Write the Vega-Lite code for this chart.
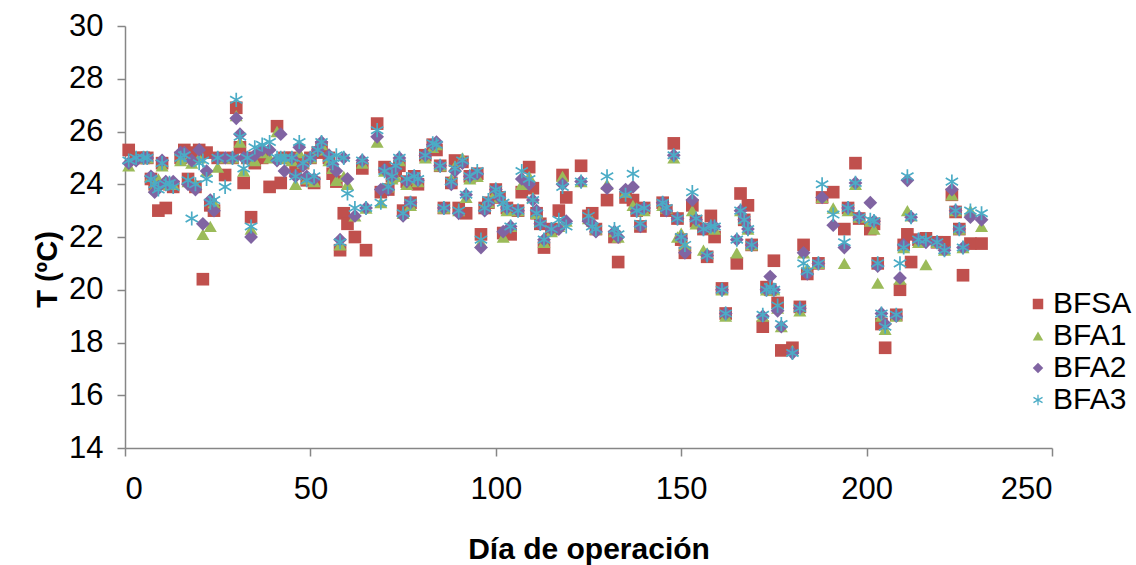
{
  "$schema": "https://vega.github.io/schema/vega-lite/v6.json",
  "width": 927,
  "height": 422,
  "autosize": {"type": "none"},
  "padding": {"left": 125, "top": 26, "right": 84, "bottom": 117},
  "background": "white",
  "config": {
    "view": {"stroke": null},
    "font": "Liberation Sans",
    "axis": {
      "grid": false,
      "domainColor": "#868686",
      "domainWidth": 1.5,
      "tickColor": "#868686",
      "tickWidth": 1.5,
      "tickSize": 8,
      "labelColor": "#000000",
      "labelFont": "Liberation Sans",
      "labelFontSize": 31,
      "titleFont": "Liberation Sans",
      "titleFontWeight": "bold",
      "titleColor": "#000000"
    }
  },
  "data": {"values": [
    {"d":1,"BFSA":25.3,"BFA1":24.7,"BFA2":24.8,"BFA3":24.9},
    {"d":3,"BFSA":25.0,"BFA1":25.0,"BFA2":24.9,"BFA3":25.0},
    {"d":5,"BFSA":25.0,"BFA1":25.0,"BFA2":25.0,"BFA3":25.0},
    {"d":6,"BFSA":25.0,"BFA1":25.0,"BFA2":25.0,"BFA3":25.0},
    {"d":7,"BFSA":24.2,"BFA1":24.3,"BFA2":24.3,"BFA3":24.2},
    {"d":8,"BFSA":24.0,"BFA1":23.9,"BFA2":23.7,"BFA3":24.0},
    {"d":9,"BFSA":23.0,"BFA1":24.2,"BFA2":23.9,"BFA3":23.8},
    {"d":10,"BFSA":24.8,"BFA1":24.7,"BFA2":24.9,"BFA3":24.8},
    {"d":11,"BFSA":23.1,"BFA1":24.0,"BFA2":24.1,"BFA3":24.0},
    {"d":12,"BFSA":24.0,"BFA1":24.1,"BFA2":24.0,"BFA3":24.05},
    {"d":13,"BFSA":23.9,"BFA1":24.0,"BFA2":24.1,"BFA3":23.9},
    {"d":15,"BFSA":25.0,"BFA1":24.9,"BFA2":25.2,"BFA3":25.0},
    {"d":16,"BFSA":25.3,"BFA1":25.0,"BFA2":25.2,"BFA3":25.1},
    {"d":17,"BFSA":24.2,"BFA1":24.1,"BFA2":24.0,"BFA3":24.15},
    {"d":18,"BFSA":25.2,"BFA1":24.8,"BFA2":24.9,"BFA3":22.7},
    {"d":19,"BFSA":23.9,"BFA1":24.0,"BFA2":23.8,"BFA3":24.0},
    {"d":20,"BFSA":25.3,"BFA1":25.0,"BFA2":25.3,"BFA3":24.8},
    {"d":21,"BFSA":20.4,"BFA1":22.1,"BFA2":22.5,"BFA3":24.9},
    {"d":22,"BFSA":25.2,"BFA1":24.5,"BFA2":24.5,"BFA3":24.2},
    {"d":23,"BFSA":23.2,"BFA1":22.4,"BFA2":23.4,"BFA3":23.3},
    {"d":24,"BFSA":23.0,"BFA1":23.3,"BFA2":23.0,"BFA3":23.4},
    {"d":25,"BFSA":25.0,"BFA1":24.65,"BFA2":25.0,"BFA3":25.0},
    {"d":27,"BFSA":24.35,"BFA1":25.0,"BFA2":25.0,"BFA3":23.9},
    {"d":29,"BFSA":25.0,"BFA1":25.0,"BFA2":25.0,"BFA3":25.0},
    {"d":30,"BFSA":26.9,"BFA1":26.6,"BFA2":26.5,"BFA3":27.2},
    {"d":31,"BFSA":25.4,"BFA1":25.6,"BFA2":25.9,"BFA3":25.8},
    {"d":32,"BFSA":24.05,"BFA1":24.5,"BFA2":25.0,"BFA3":24.6},
    {"d":33,"BFSA":25.0,"BFA1":25.0,"BFA2":25.0,"BFA3":25.0},
    {"d":34,"BFSA":22.75,"BFA1":22.3,"BFA2":22.0,"BFA3":22.4},
    {"d":35,"BFSA":24.8,"BFA1":24.9,"BFA2":25.1,"BFA3":25.4},
    {"d":37,"BFSA":25.0,"BFA1":25.2,"BFA2":25.3,"BFA3":25.5},
    {"d":39,"BFSA":23.9,"BFA1":25.0,"BFA2":25.3,"BFA3":25.6},
    {"d":41,"BFSA":26.2,"BFA1":26.0,"BFA2":24.9,"BFA3":25.0},
    {"d":42,"BFSA":24.05,"BFA1":25.0,"BFA2":25.9,"BFA3":25.0},
    {"d":43,"BFSA":25.0,"BFA1":25.0,"BFA2":24.5,"BFA3":25.0},
    {"d":45,"BFSA":25.0,"BFA1":24.9,"BFA2":25.0,"BFA3":25.0},
    {"d":46,"BFSA":24.5,"BFA1":24.0,"BFA2":24.3,"BFA3":24.3},
    {"d":47,"BFSA":24.8,"BFA1":25.2,"BFA2":25.4,"BFA3":25.6},
    {"d":48,"BFSA":24.8,"BFA1":24.8,"BFA2":24.7,"BFA3":24.8},
    {"d":49,"BFSA":24.15,"BFA1":24.2,"BFA2":24.3,"BFA3":24.15},
    {"d":50,"BFSA":25.0,"BFA1":25.0,"BFA2":25.0,"BFA3":25.0},
    {"d":51,"BFSA":24.05,"BFA1":24.1,"BFA2":24.2,"BFA3":24.3},
    {"d":52,"BFSA":25.2,"BFA1":25.3,"BFA2":25.3,"BFA3":25.3},
    {"d":53,"BFSA":25.4,"BFA1":25.5,"BFA2":25.6,"BFA3":25.6},
    {"d":55,"BFSA":25.0,"BFA1":24.9,"BFA2":25.1,"BFA3":25.0},
    {"d":56,"BFSA":24.4,"BFA1":24.6,"BFA2":24.75,"BFA3":24.8},
    {"d":57,"BFSA":24.1,"BFA1":24.15,"BFA2":24.5,"BFA3":25.1},
    {"d":58,"BFSA":21.5,"BFA1":21.7,"BFA2":21.9,"BFA3":21.8},
    {"d":59,"BFSA":22.9,"BFA1":24.3,"BFA2":25.0,"BFA3":25.0},
    {"d":60,"BFSA":22.5,"BFA1":24.0,"BFA2":24.2,"BFA3":23.65},
    {"d":62,"BFSA":22.0,"BFA1":22.8,"BFA2":22.8,"BFA3":23.1},
    {"d":64,"BFSA":24.6,"BFA1":24.8,"BFA2":24.9,"BFA3":24.9},
    {"d":65,"BFSA":21.5,"BFA1":23.1,"BFA2":23.1,"BFA3":23.1},
    {"d":68,"BFSA":26.3,"BFA1":25.6,"BFA2":25.8,"BFA3":26.05},
    {"d":69,"BFSA":23.7,"BFA1":23.3,"BFA2":23.8,"BFA3":23.3},
    {"d":70,"BFSA":24.65,"BFA1":24.5,"BFA2":24.55,"BFA3":24.5},
    {"d":71,"BFSA":23.8,"BFA1":23.9,"BFA2":23.8,"BFA3":23.9},
    {"d":72,"BFSA":24.3,"BFA1":24.2,"BFA2":24.3,"BFA3":24.3},
    {"d":73,"BFSA":24.5,"BFA1":24.3,"BFA2":24.6,"BFA3":24.7},
    {"d":74,"BFSA":24.7,"BFA1":24.9,"BFA2":25.0,"BFA3":25.0},
    {"d":75,"BFSA":23.0,"BFA1":22.9,"BFA2":22.8,"BFA3":22.9},
    {"d":76,"BFSA":24.1,"BFA1":24.0,"BFA2":24.1,"BFA3":24.2},
    {"d":77,"BFSA":23.3,"BFA1":23.2,"BFA2":23.3,"BFA3":23.3},
    {"d":78,"BFSA":24.3,"BFA1":24.2,"BFA2":24.3,"BFA3":24.3},
    {"d":79,"BFSA":24.0,"BFA1":24.1,"BFA2":24.15,"BFA3":24.2},
    {"d":81,"BFSA":25.1,"BFA1":25.0,"BFA2":25.1,"BFA3":25.1},
    {"d":83,"BFSA":25.5,"BFA1":25.4,"BFA2":25.5,"BFA3":25.55},
    {"d":84,"BFSA":25.3,"BFA1":25.5,"BFA2":25.6,"BFA3":25.5},
    {"d":85,"BFSA":24.7,"BFA1":24.7,"BFA2":24.7,"BFA3":24.7},
    {"d":86,"BFSA":23.1,"BFA1":23.1,"BFA2":23.1,"BFA3":23.1},
    {"d":88,"BFSA":24.05,"BFA1":24.2,"BFA2":24.0,"BFA3":24.1},
    {"d":89,"BFSA":24.9,"BFA1":24.7,"BFA2":24.5,"BFA3":24.6},
    {"d":90,"BFSA":23.1,"BFA1":23.0,"BFA2":22.9,"BFA3":23.0},
    {"d":91,"BFSA":24.85,"BFA1":25.0,"BFA2":24.8,"BFA3":24.9},
    {"d":92,"BFSA":22.9,"BFA1":23.5,"BFA2":23.6,"BFA3":23.6},
    {"d":93,"BFSA":24.3,"BFA1":24.2,"BFA2":24.3,"BFA3":24.3},
    {"d":95,"BFSA":24.4,"BFA1":24.3,"BFA2":24.4,"BFA3":24.5},
    {"d":96,"BFSA":22.1,"BFA1":21.8,"BFA2":21.6,"BFA3":21.9},
    {"d":97,"BFSA":23.1,"BFA1":23.2,"BFA2":23.0,"BFA3":23.1},
    {"d":98,"BFSA":23.3,"BFA1":23.3,"BFA2":23.3,"BFA3":23.4},
    {"d":100,"BFSA":23.8,"BFA1":23.7,"BFA2":23.8,"BFA3":23.8},
    {"d":101,"BFSA":23.5,"BFA1":23.5,"BFA2":23.5,"BFA3":23.6},
    {"d":102,"BFSA":22.15,"BFA1":22.0,"BFA2":22.2,"BFA3":23.3},
    {"d":103,"BFSA":23.1,"BFA1":23.0,"BFA2":23.1,"BFA3":23.1},
    {"d":104,"BFSA":22.1,"BFA1":22.4,"BFA2":22.4,"BFA3":22.4},
    {"d":106,"BFSA":23.0,"BFA1":23.0,"BFA2":23.0,"BFA3":23.0},
    {"d":107,"BFSA":23.7,"BFA1":24.0,"BFA2":24.2,"BFA3":24.5},
    {"d":109,"BFSA":24.65,"BFA1":24.3,"BFA2":24.0,"BFA3":24.2},
    {"d":110,"BFSA":23.85,"BFA1":23.5,"BFA2":23.4,"BFA3":23.4},
    {"d":111,"BFSA":22.9,"BFA1":22.9,"BFA2":23.0,"BFA3":22.9},
    {"d":112,"BFSA":22.5,"BFA1":22.6,"BFA2":22.5,"BFA3":22.5},
    {"d":113,"BFSA":21.6,"BFA1":21.8,"BFA2":21.9,"BFA3":21.9},
    {"d":115,"BFSA":22.3,"BFA1":22.2,"BFA2":22.3,"BFA3":22.3},
    {"d":117,"BFSA":23.0,"BFA1":22.4,"BFA2":22.3,"BFA3":22.65},
    {"d":118,"BFSA":24.35,"BFA1":24.3,"BFA2":24.0,"BFA3":23.9},
    {"d":119,"BFSA":23.5,"BFA1":22.6,"BFA2":22.6,"BFA3":22.4},
    {"d":123,"BFSA":24.7,"BFA1":24.1,"BFA2":24.1,"BFA3":24.1},
    {"d":125,"BFSA":22.8,"BFA1":22.7,"BFA2":22.6,"BFA3":22.8},
    {"d":126,"BFSA":22.9,"BFA1":22.6,"BFA2":22.5,"BFA3":22.4},
    {"d":127,"BFSA":22.3,"BFA1":22.3,"BFA2":22.2,"BFA3":22.3},
    {"d":130,"BFSA":23.4,"BFA1":24.0,"BFA2":23.85,"BFA3":24.3},
    {"d":132,"BFSA":22.0,"BFA1":22.2,"BFA2":22.2,"BFA3":22.3},
    {"d":133,"BFSA":21.05,"BFA1":22.0,"BFA2":22.0,"BFA3":22.1},
    {"d":135,"BFSA":23.5,"BFA1":23.7,"BFA2":23.8,"BFA3":23.6},
    {"d":137,"BFSA":23.4,"BFA1":23.2,"BFA2":23.9,"BFA3":24.4},
    {"d":138,"BFSA":23.0,"BFA1":23.1,"BFA2":23.0,"BFA3":23.0},
    {"d":139,"BFSA":22.4,"BFA1":22.5,"BFA2":22.4,"BFA3":22.5},
    {"d":140,"BFSA":23.1,"BFA1":23.0,"BFA2":23.1,"BFA3":23.1},
    {"d":145,"BFSA":23.3,"BFA1":23.2,"BFA2":23.3,"BFA3":23.3},
    {"d":146,"BFSA":23.0,"BFA1":23.1,"BFA2":23.0,"BFA3":23.1},
    {"d":148,"BFSA":25.55,"BFA1":25.0,"BFA2":25.1,"BFA3":25.1},
    {"d":149,"BFSA":22.7,"BFA1":22.0,"BFA2":22.7,"BFA3":22.7},
    {"d":150,"BFSA":21.9,"BFA1":22.15,"BFA2":21.95,"BFA3":22.0},
    {"d":151,"BFSA":21.4,"BFA1":21.7,"BFA2":21.4,"BFA3":21.7},
    {"d":153,"BFSA":23.2,"BFA1":23.0,"BFA2":23.4,"BFA3":23.7},
    {"d":154,"BFSA":22.6,"BFA1":22.5,"BFA2":22.65,"BFA3":22.7},
    {"d":156,"BFSA":22.3,"BFA1":21.5,"BFA2":22.3,"BFA3":22.3},
    {"d":157,"BFSA":21.25,"BFA1":21.4,"BFA2":21.3,"BFA3":21.3},
    {"d":158,"BFSA":22.8,"BFA1":22.4,"BFA2":22.4,"BFA3":22.4},
    {"d":159,"BFSA":22.0,"BFA1":22.3,"BFA2":22.4,"BFA3":22.4},
    {"d":161,"BFSA":20.05,"BFA1":20.0,"BFA2":20.0,"BFA3":20.0},
    {"d":162,"BFSA":19.1,"BFA1":19.0,"BFA2":19.1,"BFA3":19.1},
    {"d":165,"BFSA":21.0,"BFA1":21.4,"BFA2":21.9,"BFA3":21.9},
    {"d":166,"BFSA":23.65,"BFA1":23.0,"BFA2":23.0,"BFA3":23.0},
    {"d":167,"BFSA":22.65,"BFA1":22.7,"BFA2":22.65,"BFA3":22.65},
    {"d":168,"BFSA":23.2,"BFA1":22.3,"BFA2":22.3,"BFA3":22.3},
    {"d":169,"BFSA":21.7,"BFA1":21.7,"BFA2":21.7,"BFA3":21.7},
    {"d":172,"BFSA":18.6,"BFA1":19.0,"BFA2":19.0,"BFA3":19.05},
    {"d":173,"BFSA":20.1,"BFA1":20.0,"BFA2":20.0,"BFA3":20.0},
    {"d":174,"BFSA":20.0,"BFA1":20.0,"BFA2":20.5,"BFA3":20.1},
    {"d":175,"BFSA":21.1,"BFA1":20.0,"BFA2":20.0,"BFA3":20.0},
    {"d":176,"BFSA":19.5,"BFA1":19.3,"BFA2":19.2,"BFA3":19.4},
    {"d":177,"BFSA":17.7,"BFA1":18.6,"BFA2":18.6,"BFA3":18.7},
    {"d":180,"BFSA":17.8,"BFA1":17.7,"BFA2":17.6,"BFA3":17.6},
    {"d":182,"BFSA":19.35,"BFA1":19.2,"BFA2":19.3,"BFA3":19.3},
    {"d":183,"BFSA":21.7,"BFA1":21.4,"BFA2":21.4,"BFA3":21.0},
    {"d":184,"BFSA":20.6,"BFA1":20.8,"BFA2":20.6,"BFA3":20.7},
    {"d":187,"BFSA":21.0,"BFA1":21.0,"BFA2":21.0,"BFA3":21.0},
    {"d":188,"BFSA":23.5,"BFA1":23.5,"BFA2":23.5,"BFA3":24.0},
    {"d":191,"BFSA":23.7,"BFA1":23.1,"BFA2":22.45,"BFA3":22.85},
    {"d":194,"BFSA":22.3,"BFA1":21.0,"BFA2":21.6,"BFA3":21.8},
    {"d":195,"BFSA":23.1,"BFA1":23.0,"BFA2":23.1,"BFA3":23.1},
    {"d":197,"BFSA":24.8,"BFA1":24.0,"BFA2":24.05,"BFA3":24.05},
    {"d":198,"BFSA":22.7,"BFA1":22.75,"BFA2":22.75,"BFA3":22.75},
    {"d":201,"BFSA":22.3,"BFA1":22.6,"BFA2":23.3,"BFA3":22.65},
    {"d":202,"BFSA":22.5,"BFA1":22.3,"BFA2":22.6,"BFA3":22.6},
    {"d":203,"BFSA":21.0,"BFA1":20.25,"BFA2":20.9,"BFA3":21.0},
    {"d":204,"BFSA":18.7,"BFA1":19.0,"BFA2":19.1,"BFA3":19.1},
    {"d":205,"BFSA":17.8,"BFA1":18.5,"BFA2":18.7,"BFA3":18.6},
    {"d":208,"BFSA":19.05,"BFA1":19.0,"BFA2":19.0,"BFA3":19.05},
    {"d":209,"BFSA":20.0,"BFA1":20.4,"BFA2":20.45,"BFA3":21.0},
    {"d":210,"BFSA":21.7,"BFA1":21.6,"BFA2":21.7,"BFA3":21.6},
    {"d":211,"BFSA":22.1,"BFA1":23.0,"BFA2":24.15,"BFA3":24.3},
    {"d":212,"BFSA":21.05,"BFA1":22.8,"BFA2":22.75,"BFA3":22.75},
    {"d":214,"BFSA":21.9,"BFA1":21.8,"BFA2":21.9,"BFA3":21.9},
    {"d":216,"BFSA":21.95,"BFA1":20.95,"BFA2":21.8,"BFA3":21.9},
    {"d":219,"BFSA":21.8,"BFA1":21.8,"BFA2":21.8,"BFA3":21.8},
    {"d":221,"BFSA":21.8,"BFA1":21.5,"BFA2":21.5,"BFA3":21.5},
    {"d":223,"BFSA":23.6,"BFA1":23.6,"BFA2":23.8,"BFA3":24.1},
    {"d":224,"BFSA":22.95,"BFA1":23.0,"BFA2":23.0,"BFA3":23.0},
    {"d":225,"BFSA":22.3,"BFA1":22.3,"BFA2":22.3,"BFA3":22.3},
    {"d":226,"BFSA":20.55,"BFA1":21.6,"BFA2":21.6,"BFA3":21.6},
    {"d":228,"BFSA":21.75,"BFA1":23.0,"BFA2":22.75,"BFA3":23.0},
    {"d":231,"BFSA":21.75,"BFA1":22.4,"BFA2":22.65,"BFA3":22.9}
  ]},
  "encoding": {
    "x": {
      "field": "d",
      "type": "quantitative",
      "scale": {"domain": [0, 250], "nice": false},
      "axis": {"values": [0, 50, 100, 150, 200, 250], "labelPadding": 18, "titleFontSize": 30, "titlePadding": 30},
      "title": "Día de operación"
    }
  },
  "layer": [
    {
      "mark": {"type": "point", "filled": true, "opacity": 1, "size": 160},
      "encoding": {
        "y": {"field": "BFSA", "type": "quantitative", "scale": {"domain": [14, 30], "nice": false},
          "axis": {"values": [14,16,18,20,22,24,26,28,30], "labelPadding": 14, "titleFontSize": 29, "titlePadding": 6, "titleY": 243}, "title": "T (ºC)"},
        "color": {"datum": "BFSA", "scale": {"domain": ["BFSA","BFA1","BFA2","BFA3"], "range": ["#C0504D","#9BBB59","#8064A2","#4BACC6"]},
          "legend": {"orient": "none", "legendX": 898, "legendY": 263, "title": null, "labelFontSize": 30, "symbolSize": 110, "rowPadding": 2, "labelOffset": 0, "labelColor": "#000000", "labelFont": "Liberation Sans"}},
        "shape": {"datum": "BFSA", "scale": {"domain": ["BFSA","BFA1","BFA2","BFA3"], "range": ["square","triangle-up","diamond","M-0.12,-1L0.12,-1L0.12,1L-0.12,1ZM-0.806,-0.604L0.926,0.396L0.806,0.604L-0.926,-0.396ZM0.926,-0.396L-0.806,0.604L-0.926,0.396L0.806,-0.604Z"]},
          "legend": {"orient": "none", "legendX": 898, "legendY": 263, "title": null, "labelFontSize": 30, "symbolSize": 110, "rowPadding": 2, "labelOffset": 0, "labelColor": "#000000", "labelFont": "Liberation Sans"}}
      }
    },
    {
      "mark": {"type": "point", "filled": true, "opacity": 1, "size": 170},
      "encoding": {
        "y": {"field": "BFA1", "type": "quantitative", "title": "T (ºC)"},
        "color": {"datum": "BFA1"},
        "shape": {"datum": "BFA1"}
      }
    },
    {
      "mark": {"type": "point", "filled": true, "opacity": 1, "size": 190},
      "encoding": {
        "y": {"field": "BFA2", "type": "quantitative", "title": "T (ºC)"},
        "color": {"datum": "BFA2"},
        "shape": {"datum": "BFA2"}
      }
    },
    {
      "mark": {"type": "point", "filled": true, "opacity": 1, "size": 200},
      "encoding": {
        "y": {"field": "BFA3", "type": "quantitative", "title": "T (ºC)"},
        "color": {"datum": "BFA3"},
        "shape": {"datum": "BFA3"}
      }
    }
  ]
}
